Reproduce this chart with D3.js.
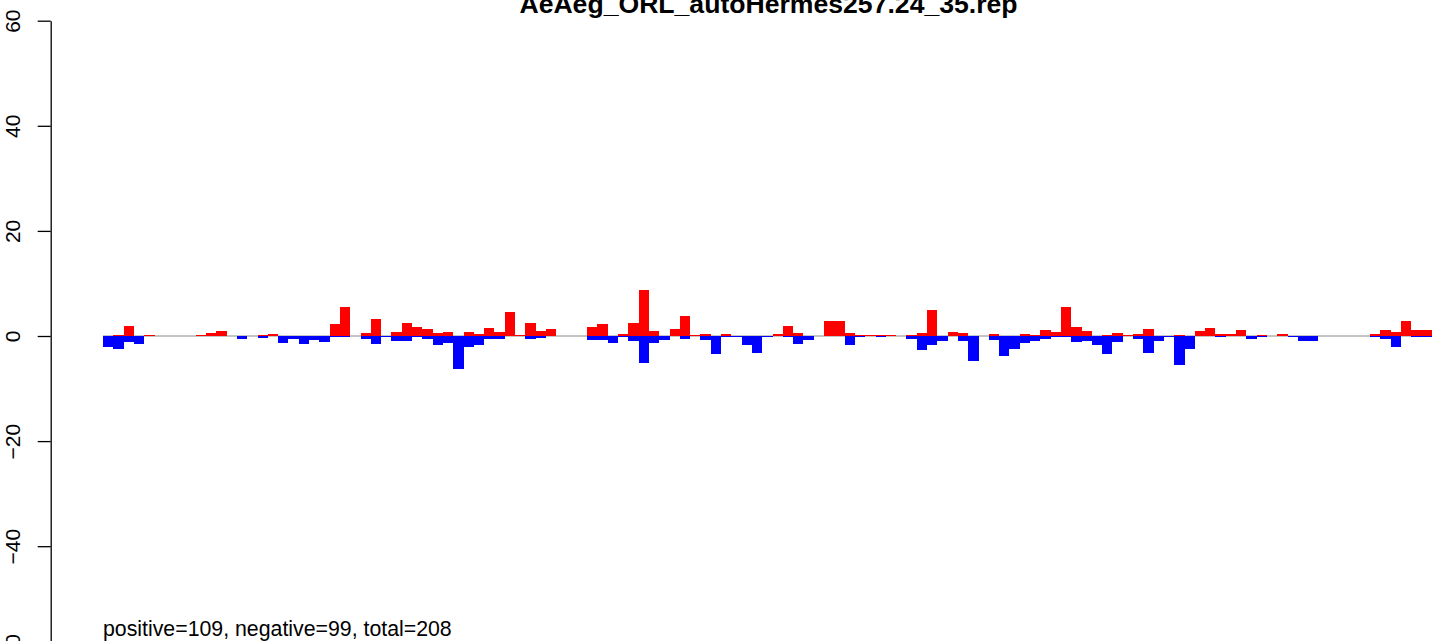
<!DOCTYPE html>
<html>
<head>
<meta charset="utf-8">
<script src="https://cdn.jsdelivr.net/npm/d3@7"></script>
<style>
  html, body { margin: 0; padding: 0; background: #ffffff; }
  svg { display: block; font-family: "Liberation Sans", Arial, Helvetica, sans-serif; }
</style>
</head>
<body>
<svg id="chart" width="1441" height="641"></svg>
<script>
const titleText = "AeAeg_ORL_autoHermes257.24_35.rep";
const footnote = "positive=109, negative=99, total=208";
const tickValues = [60, 40, 20, 0, -20, -40, -60];

const posValues = [
  0, 0.2, 1.9, 0, 0.1, 0, 0, 0, 0, 0.1,
  0.6, 0.95, 0, 0, 0, 0.1, 0.3, 0, 0, 0,
  0, 0, 2.3, 5.5, 0, 0.6, 3.2, 0, 0.75, 2.45,
  1.7, 1.3, 0.6, 0.75, 0, 0.75, 0.3, 1.5, 0.75, 4.55,
  0.1, 2.45, 0.95, 1.3, 0, 0, 0, 1.7, 2.3, 0,
  0.4, 2.45, 8.7, 0.95, 0, 1.3, 3.8, 0.1, 0.4, 0,
  0.4, 0, 0, 0, 0, 0.3, 1.9, 0.6, 0, 0,
  2.85, 2.85, 0.6, 0.1, 0.1, 0.1, 0.1, 0, 0.1, 0.6,
  4.9, 0, 0.75, 0.6, 0, 0, 0.3, 0, 0, 0.3,
  0.1, 1.1, 0.75, 5.5, 1.7, 0.95, 0, 0.1, 0.6, 0.1,
  0.4, 1.3, 0, 0, 0.1, 0, 0.95, 1.5, 0.3, 0.3,
  1.1, 0, 0.1, 0, 0.3, 0, 0, 0, 0, 0,
  0, 0, 0, 0.3, 1.1, 0.75, 2.85, 1.1, 1.1
];
const negValues = [
  -2.0, -2.4, -1.1, -1.45, 0, 0, 0, 0, 0, 0,
  0, 0, 0, -0.5, 0, -0.3, 0, -1.25, -0.5, -1.45,
  -0.7, -1.1, -0.2, -0.2, 0, -0.5, -1.45, -0.2, -0.9, -0.9,
  -0.2, -0.5, -1.65, -1.25, -6.2, -2.0, -1.65, -0.5, -0.5, 0,
  0, -0.5, -0.3, 0, 0, 0, 0, -0.7, -0.7, -1.25,
  -0.25, -0.9, -5.05, -1.25, -0.7, 0, -0.5, 0, -0.7, -3.5,
  -0.25, -0.2, -1.8, -3.15, -0.25, 0, -0.25, -1.45, -0.7, 0,
  0, 0, -1.8, -0.25, 0, -0.25, 0, 0, -0.5, -2.6,
  -1.65, -0.9, 0, -0.9, -4.7, 0, -0.7, -3.9, -2.4, -1.25,
  -0.9, -0.5, -0.25, -0.25, -1.1, -0.9, -1.8, -3.35, -1.1, 0,
  -0.5, -3.15, -0.9, -0.25, -5.6, -2.4, 0, 0, -0.25, 0,
  0, -0.5, -0.25, 0, 0, -0.25, -0.9, -0.9, 0, 0,
  0, 0, 0, -0.25, -0.5, -2.0, 0, -0.2, -0.2
];
const categories = posValues.map((d, i) => i);

const svg = d3.select("#chart");
const x = d3.scaleLinear().domain([0, categories.length]).range([103, 1431.7]);
const y = d3.scaleLinear().domain([-60, 60]).range([651.3, 20.7]);
const axisX = 50.7;

// zero baseline
svg.append("line")
  .attr("x1", x(0)).attr("x2", x(categories.length))
  .attr("y1", y(0)).attr("y2", y(0))
  .attr("stroke", "#8a8a8a").attr("stroke-width", 1);

// positive bars
svg.append("g").selectAll("rect")
  .data(categories.filter(i => posValues[i] > 0))
  .join("rect")
  .attr("x", i => x(i))
  .attr("width", i => x(i + 1) - x(i))
  .attr("y", i => y(posValues[i]))
  .attr("height", i => y(0) - y(posValues[i]))
  .attr("fill", "#ff0000")
  .attr("shape-rendering", "crispEdges");

// negative bars
svg.append("g").selectAll("rect")
  .data(categories.filter(i => negValues[i] < 0))
  .join("rect")
  .attr("x", i => x(i))
  .attr("width", i => x(i + 1) - x(i))
  .attr("y", y(0))
  .attr("height", i => y(negValues[i]) - y(0))
  .attr("fill", "#0000ff")
  .attr("shape-rendering", "crispEdges");

// y axis
const axisG = svg.append("g")
  .attr("transform", `translate(${axisX},0)`)
  .call(d3.axisLeft(y).tickValues(tickValues).tickSize(13).tickSizeOuter(0)
    .tickFormat(d => d < 0 ? "\u2212" + Math.abs(d) : String(d)));
axisG.select(".domain").attr("stroke", "#000").attr("stroke-width", 1.3);
axisG.selectAll(".tick line").attr("stroke", "#000").attr("stroke-width", 1.3);
axisG.selectAll(".tick text")
  .attr("transform", "rotate(-90)")
  .attr("x", 0)
  .attr("y", 20 - axisX)
  .attr("dy", 0)
  .attr("text-anchor", "middle")
  .attr("fill", "#000")
  .style("font-size", "21px")
  .style("font-family", "'Liberation Sans', Arial, Helvetica, sans-serif");

// title
svg.append("text")
  .attr("x", 768.5).attr("y", 12.7)
  .attr("text-anchor", "middle")
  .attr("font-weight", "bold")
  .attr("font-size", "26.6px")
  .attr("fill", "#000")
  .text(titleText);

// footnote
svg.append("text")
  .attr("x", 103).attr("y", 636)
  .attr("font-size", "21.3px")
  .attr("fill", "#000")
  .text(footnote);
</script>
</body>
</html>
